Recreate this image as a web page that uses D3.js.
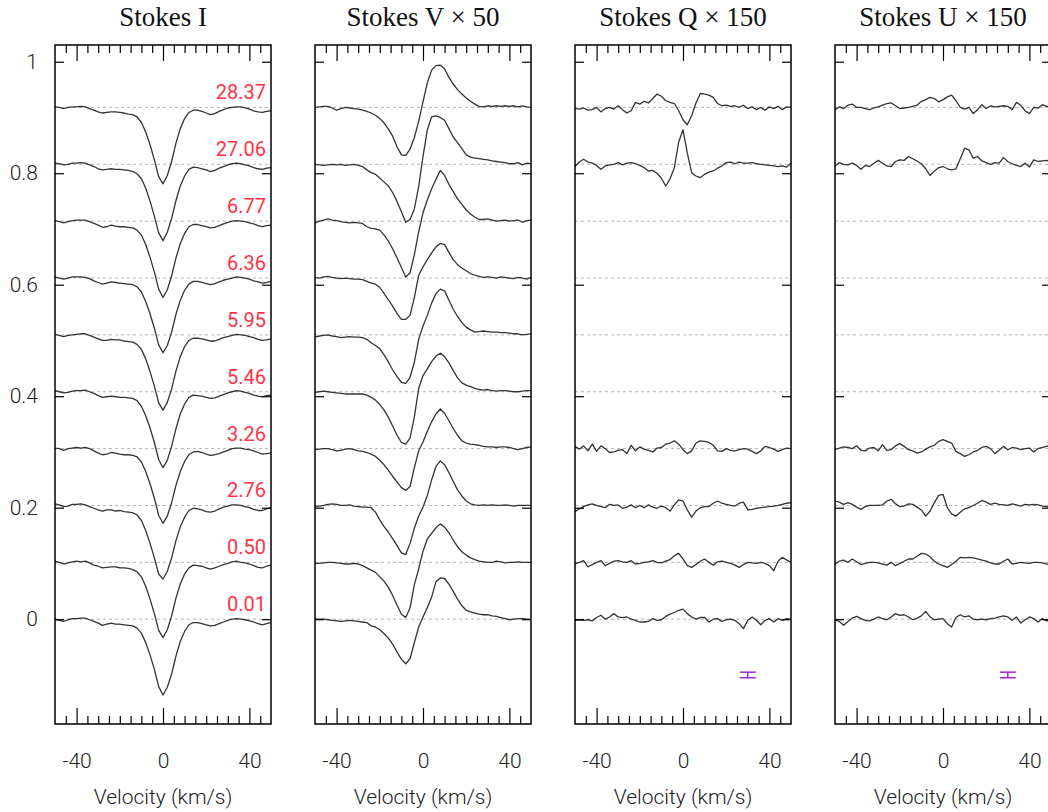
<!DOCTYPE html>
<html>
<head>
<meta charset="utf-8">
<script src="https://cdn.jsdelivr.net/npm/d3@7"></script>
<style>
  body { margin: 0; background: #fff; }
  svg { display: block; }
</style>
</head>
<body>
<script>
// velocity grid (km/s)
const velocity = [-50,-48,-46,-44,-42,-40,-38,-36,-34,-32,-30,-28,-26,-24,-22,-20,-18,-16,-14,-12,-10,-8,-6,-4,-2,0,
  2,4,6,8,10,12,14,16,18,20,22,24,26,28,30,32,34,36,38,40,42,44,46,48,50];

// rotational phases, bottom to top, and their vertical shifts
const phases = ["0.01", "0.50", "2.76", "3.26", "5.46", "5.95", "6.36", "6.77", "27.06", "28.37"];
const offsets = [0, 0.102, 0.204, 0.306, 0.408, 0.51, 0.612, 0.714, 0.816, 0.918];

// Stokes I (I - 1), one row per phase
const stokesI = [
  [0.000,-0.002,-0.004,-0.001,0.001,0.001,0.002,0.002,-0.001,-0.004,-0.007,-0.011,-0.009,-0.007,-0.009,-0.009,-0.010,-0.011,-0.012,-0.016,-0.025,-0.042,-0.064,-0.090,-0.121,-0.136,-0.122,-0.098,-0.066,-0.040,-0.022,-0.010,-0.006,-0.006,-0.008,-0.010,-0.012,-0.011,-0.008,-0.005,-0.002,0.000,0.001,0.000,-0.001,-0.003,-0.005,-0.008,-0.010,-0.008,-0.006],
  [0.002,0.000,-0.003,-0.001,0.001,0.002,0.001,0.002,-0.001,-0.005,-0.007,-0.010,-0.009,-0.008,-0.008,-0.010,-0.010,-0.011,-0.013,-0.017,-0.026,-0.043,-0.066,-0.092,-0.122,-0.135,-0.121,-0.096,-0.064,-0.039,-0.021,-0.010,-0.005,-0.006,-0.007,-0.010,-0.012,-0.010,-0.007,-0.004,-0.002,0.001,0.002,0.000,-0.001,-0.003,-0.006,-0.009,-0.010,-0.007,-0.005],
  [0.003,0.001,-0.002,-0.001,0.002,0.002,0.003,0.001,-0.002,-0.005,-0.008,-0.010,-0.008,-0.008,-0.010,-0.009,-0.011,-0.012,-0.013,-0.017,-0.027,-0.045,-0.068,-0.094,-0.123,-0.132,-0.118,-0.094,-0.063,-0.038,-0.021,-0.009,-0.005,-0.006,-0.008,-0.011,-0.012,-0.010,-0.006,-0.003,-0.001,0.001,0.001,0.000,-0.002,-0.004,-0.007,-0.009,-0.009,-0.006,-0.004],
  [0.001,0.000,-0.003,0.000,0.001,0.002,0.001,0.002,0.000,-0.004,-0.008,-0.011,-0.010,-0.007,-0.008,-0.010,-0.011,-0.011,-0.012,-0.015,-0.024,-0.041,-0.063,-0.089,-0.120,-0.134,-0.121,-0.097,-0.066,-0.041,-0.023,-0.011,-0.006,-0.005,-0.007,-0.010,-0.012,-0.011,-0.009,-0.006,-0.003,0.000,0.001,0.001,-0.001,-0.002,-0.004,-0.007,-0.010,-0.009,-0.008],
  [0.002,0.000,-0.002,-0.001,0.001,0.002,0.002,0.003,0.000,-0.003,-0.007,-0.010,-0.009,-0.008,-0.009,-0.010,-0.010,-0.011,-0.012,-0.016,-0.026,-0.043,-0.065,-0.091,-0.122,-0.136,-0.123,-0.098,-0.066,-0.040,-0.022,-0.010,-0.006,-0.007,-0.008,-0.010,-0.012,-0.011,-0.008,-0.005,-0.002,0.000,0.002,0.001,-0.001,-0.003,-0.006,-0.008,-0.009,-0.007,-0.006],
  [0.001,-0.001,-0.003,-0.001,0.000,0.001,0.002,0.002,-0.001,-0.004,-0.007,-0.010,-0.010,-0.008,-0.009,-0.009,-0.011,-0.012,-0.013,-0.017,-0.026,-0.043,-0.066,-0.092,-0.122,-0.135,-0.121,-0.097,-0.065,-0.039,-0.021,-0.010,-0.006,-0.006,-0.007,-0.009,-0.011,-0.011,-0.008,-0.005,-0.003,-0.001,0.001,0.000,-0.001,-0.003,-0.005,-0.008,-0.010,-0.009,-0.007],
  [0.002,0.000,-0.002,0.000,0.002,0.002,0.002,0.001,-0.001,-0.005,-0.008,-0.011,-0.009,-0.007,-0.008,-0.009,-0.010,-0.011,-0.012,-0.016,-0.025,-0.042,-0.064,-0.090,-0.120,-0.134,-0.121,-0.097,-0.065,-0.040,-0.022,-0.011,-0.006,-0.006,-0.008,-0.010,-0.012,-0.010,-0.007,-0.004,-0.002,0.000,0.002,0.001,0.000,-0.002,-0.005,-0.007,-0.009,-0.008,-0.006],
  [0.001,-0.001,-0.003,-0.001,0.001,0.002,0.002,0.002,-0.001,-0.004,-0.007,-0.011,-0.010,-0.007,-0.009,-0.010,-0.010,-0.011,-0.012,-0.016,-0.025,-0.042,-0.065,-0.091,-0.122,-0.137,-0.123,-0.098,-0.066,-0.040,-0.022,-0.010,-0.006,-0.006,-0.008,-0.010,-0.012,-0.011,-0.008,-0.005,-0.002,0.000,0.001,0.000,-0.001,-0.003,-0.005,-0.008,-0.010,-0.008,-0.007],
  [0.002,0.001,-0.001,0.000,0.002,0.002,0.003,0.002,-0.001,-0.004,-0.008,-0.010,-0.009,-0.008,-0.009,-0.009,-0.010,-0.011,-0.013,-0.017,-0.026,-0.043,-0.066,-0.093,-0.123,-0.137,-0.122,-0.097,-0.065,-0.039,-0.021,-0.009,-0.005,-0.006,-0.008,-0.010,-0.013,-0.011,-0.007,-0.004,-0.001,0.001,0.002,0.001,-0.001,-0.003,-0.006,-0.008,-0.009,-0.007,-0.006],
  [0.001,0.000,-0.002,0.000,0.001,0.001,0.002,0.001,-0.002,-0.005,-0.008,-0.010,-0.009,-0.008,-0.008,-0.009,-0.010,-0.012,-0.013,-0.017,-0.027,-0.044,-0.067,-0.094,-0.124,-0.137,-0.122,-0.097,-0.064,-0.038,-0.020,-0.009,-0.005,-0.005,-0.007,-0.010,-0.013,-0.011,-0.007,-0.004,-0.001,0.000,0.001,0.001,-0.001,-0.003,-0.006,-0.008,-0.009,-0.007,-0.006]
];

// Stokes V x 50
const stokesV = [
  [0.000,0.000,0.000,-0.001,-0.002,-0.003,-0.004,-0.003,-0.002,-0.003,-0.004,-0.005,-0.006,-0.012,-0.014,-0.019,-0.026,-0.034,-0.045,-0.059,-0.072,-0.080,-0.071,-0.042,-0.014,0.004,0.021,0.040,0.067,0.074,0.073,0.063,0.050,0.036,0.024,0.016,0.013,0.011,0.009,0.008,0.008,0.006,0.005,0.003,0.001,-0.001,0.000,0.001,0.001,0.000,0.000],
  [-0.002,-0.002,-0.001,0.000,0.000,-0.001,-0.002,-0.003,-0.003,-0.002,-0.003,-0.006,-0.010,-0.014,-0.018,-0.026,-0.034,-0.045,-0.060,-0.077,-0.093,-0.099,-0.082,-0.040,-0.012,0.020,0.042,0.052,0.062,0.069,0.063,0.053,0.040,0.028,0.019,0.013,0.008,0.005,0.002,0.001,0.000,0.000,0.002,0.001,-0.001,0.000,0.000,0.001,0.000,0.000,0.000],
  [-0.002,-0.001,0.000,0.002,0.003,0.002,0.000,0.000,0.001,-0.001,-0.002,-0.003,-0.003,-0.004,-0.012,-0.026,-0.038,-0.048,-0.060,-0.072,-0.085,-0.088,-0.068,-0.041,-0.019,-0.003,0.018,0.046,0.070,0.080,0.073,0.059,0.043,0.028,0.017,0.008,0.003,0.001,0.000,0.001,0.000,0.001,0.000,0.000,0.001,0.000,-0.001,0.000,0.000,0.000,0.000],
  [-0.002,-0.001,0.000,0.000,-0.002,-0.004,-0.003,-0.001,0.000,-0.002,-0.004,-0.005,-0.007,-0.010,-0.014,-0.021,-0.029,-0.039,-0.050,-0.060,-0.070,-0.075,-0.068,-0.034,-0.004,0.012,0.031,0.048,0.062,0.071,0.063,0.050,0.036,0.024,0.014,0.010,0.008,0.007,0.006,0.004,0.003,0.003,0.002,0.003,0.003,0.002,0.000,-0.002,0.000,0.002,0.003],
  [-0.001,0.000,0.001,0.000,-0.001,-0.002,-0.003,-0.004,-0.004,-0.004,-0.004,-0.004,-0.006,-0.010,-0.015,-0.023,-0.033,-0.046,-0.062,-0.078,-0.091,-0.094,-0.083,-0.045,0.006,0.029,0.041,0.054,0.064,0.069,0.063,0.052,0.038,0.025,0.016,0.012,0.009,0.006,0.004,0.003,0.004,0.002,0.001,0.002,0.002,0.001,0.000,0.000,0.001,0.002,0.002],
  [-0.004,-0.002,-0.001,0.000,-0.002,-0.003,-0.005,-0.004,-0.003,-0.004,-0.004,-0.005,-0.008,-0.014,-0.019,-0.025,-0.036,-0.049,-0.063,-0.075,-0.085,-0.087,-0.076,-0.049,-0.008,0.016,0.035,0.057,0.074,0.082,0.079,0.062,0.046,0.033,0.022,0.014,0.009,0.005,0.006,0.007,0.006,0.005,0.005,0.004,0.004,0.003,0.002,0.002,0.000,0.001,0.002],
  [0.001,0.000,0.002,0.003,0.001,0.000,-0.001,0.000,-0.001,-0.002,-0.002,-0.003,-0.006,-0.009,-0.011,-0.017,-0.028,-0.039,-0.051,-0.064,-0.074,-0.074,-0.067,-0.035,0.005,0.020,0.033,0.045,0.056,0.062,0.060,0.046,0.033,0.024,0.018,0.013,0.008,0.005,0.003,0.001,0.002,0.001,0.000,0.002,0.001,0.000,-0.001,0.001,0.000,-0.002,0.001],
  [-0.003,0.000,0.002,0.004,0.002,0.001,-0.001,-0.002,-0.003,-0.002,-0.003,-0.004,-0.010,-0.013,-0.014,-0.016,-0.025,-0.036,-0.050,-0.066,-0.083,-0.100,-0.093,-0.060,-0.019,0.015,0.038,0.058,0.075,0.091,0.082,0.066,0.053,0.040,0.030,0.020,0.013,0.007,0.003,0.003,0.004,0.002,0.000,0.001,0.002,0.000,0.001,0.002,-0.002,0.001,0.002],
  [0.000,-0.001,-0.002,-0.001,0.000,-0.001,0.000,-0.002,-0.001,0.000,-0.002,-0.004,-0.010,-0.015,-0.018,-0.025,-0.032,-0.039,-0.051,-0.067,-0.085,-0.104,-0.099,-0.080,-0.040,0.014,0.062,0.085,0.087,0.084,0.079,0.064,0.049,0.039,0.028,0.017,0.013,0.011,0.010,0.009,0.008,0.006,0.005,0.004,0.003,0.001,0.001,0.003,-0.001,0.002,0.001],
  [0.000,0.001,0.002,0.002,-0.001,-0.005,-0.002,0.000,-0.001,-0.002,-0.003,-0.005,-0.007,-0.010,-0.014,-0.020,-0.028,-0.039,-0.052,-0.071,-0.085,-0.086,-0.075,-0.054,-0.025,0.010,0.044,0.067,0.075,0.076,0.069,0.054,0.042,0.032,0.024,0.017,0.011,0.006,0.002,0.001,0.003,0.002,0.003,0.002,0.003,0.002,0.003,0.001,0.003,0.001,0.000]
];

// Stokes Q x 150 (null: no polarimetric sequence at that phase)
const stokesQ = [
  [-0.002,-0.001,-0.002,-0.001,-0.003,0.003,0.007,0.000,0.004,0.010,0.004,0.003,0.004,0.000,-0.002,-0.005,-0.005,-0.004,0.001,-0.002,-0.001,0.005,0.009,0.012,0.016,0.018,0.010,0.004,0.000,0.003,0.003,-0.005,0.000,0.001,-0.004,-0.001,0.000,-0.002,-0.008,-0.017,-0.002,0.004,-0.002,-0.010,-0.002,0.001,-0.005,0.001,-0.002,0.001,0.000],
  [-0.003,0.000,0.003,-0.008,-0.004,0.000,0.003,-0.006,-0.002,0.002,0.003,0.001,0.000,0.003,-0.003,-0.002,0.000,0.001,0.003,0.000,-0.001,0.002,0.005,0.012,0.016,0.006,-0.006,-0.009,-0.004,0.002,0.006,0.000,-0.005,0.001,0.002,0.000,-0.002,-0.005,-0.009,-0.004,0.000,-0.001,-0.002,0.000,-0.002,-0.006,-0.015,0.002,0.009,0.004,0.000],
  [-0.011,-0.006,-0.002,0.001,0.003,0.000,-0.002,-0.004,0.002,0.000,0.001,-0.005,-0.003,0.001,-0.004,0.000,-0.004,0.001,-0.003,-0.005,-0.001,-0.004,-0.010,0.001,0.010,0.008,-0.008,-0.021,-0.010,-0.004,-0.002,-0.002,0.004,0.008,0.004,0.002,0.000,-0.001,0.004,0.006,-0.008,-0.007,-0.005,-0.004,-0.003,-0.002,-0.001,0.000,0.002,0.004,0.005],
  [0.004,-0.001,0.005,-0.004,0.008,-0.005,0.005,0.000,-0.007,-0.006,-0.003,-0.002,-0.009,0.006,-0.004,0.003,-0.001,-0.003,-0.006,0.001,0.002,0.008,0.010,0.014,0.008,-0.002,-0.009,-0.004,0.010,0.014,0.013,0.011,0.006,-0.004,-0.005,0.000,-0.003,-0.004,-0.002,0.000,-0.001,-0.005,-0.009,-0.004,0.004,0.002,-0.001,-0.005,-0.002,0.001,0.000],
  null, null, null, null,
  [-0.004,0.004,0.009,0.004,0.002,-0.002,-0.009,-0.003,-0.001,0.000,0.003,-0.001,0.002,0.003,0.001,-0.002,-0.006,-0.012,-0.011,-0.016,-0.025,-0.039,-0.026,-0.006,0.040,0.062,0.020,-0.015,-0.021,-0.024,-0.018,-0.014,-0.012,-0.007,-0.003,0.003,0.004,0.001,0.004,0.002,0.002,0.003,0.001,0.000,-0.001,-0.002,-0.003,-0.004,-0.003,-0.005,0.002],
  [-0.002,-0.003,-0.001,-0.005,-0.004,0.000,-0.008,-0.002,0.000,-0.003,0.003,-0.004,-0.010,-0.006,0.009,0.006,0.011,0.008,0.016,0.024,0.020,0.012,0.009,0.007,-0.006,-0.022,-0.031,-0.015,0.008,0.025,0.024,0.022,0.018,0.007,0.003,0.004,0.002,0.003,0.000,0.004,-0.002,0.001,-0.004,0.000,-0.005,0.001,-0.002,0.002,-0.004,0.001,0.000]
];

// Stokes U x 150
const stokesU = [
  [-0.001,-0.004,-0.011,-0.004,0.002,0.005,0.001,-0.002,-0.003,0.000,0.004,0.001,-0.001,0.004,0.010,0.007,0.008,0.004,-0.001,0.002,0.006,0.014,0.004,-0.001,0.000,0.001,-0.008,-0.014,0.003,0.008,0.004,0.006,0.000,-0.001,0.000,-0.001,0.001,0.002,0.004,0.006,0.004,-0.002,0.004,-0.007,-0.001,0.004,0.001,-0.005,0.001,-0.003,-0.001],
  [-0.003,0.002,0.004,0.000,0.006,0.001,-0.004,-0.002,0.000,0.000,-0.001,-0.003,-0.005,0.000,-0.006,-0.002,0.002,0.006,0.006,0.011,0.016,0.015,0.010,0.002,-0.003,-0.006,-0.009,-0.004,0.002,0.009,0.008,0.009,0.008,0.006,0.004,0.002,-0.001,-0.003,-0.003,0.002,0.006,-0.003,-0.002,0.000,-0.001,-0.002,0.000,0.000,-0.001,-0.003,-0.004],
  [0.008,0.006,0.002,0.005,0.002,-0.003,-0.007,-0.002,0.000,0.000,0.000,0.001,0.008,0.011,0.003,-0.002,-0.001,0.003,0.002,-0.003,-0.008,-0.019,-0.010,0.005,0.018,0.020,-0.004,-0.015,-0.019,-0.012,-0.006,-0.004,0.000,0.004,0.009,0.006,0.002,0.004,0.002,0.001,0.000,0.003,0.001,-0.001,0.002,0.001,0.002,0.001,-0.001,-0.002,-0.003],
  [-0.002,0.001,0.003,0.002,0.000,0.005,-0.003,-0.004,0.001,0.002,-0.004,0.007,-0.003,-0.002,0.005,0.009,0.004,-0.002,-0.004,-0.008,-0.006,-0.001,0.003,0.006,0.013,0.016,0.013,0.010,-0.005,-0.009,-0.014,-0.011,-0.006,-0.003,0.002,0.004,0.000,-0.009,-0.003,0.004,-0.002,0.002,0.001,-0.002,0.000,0.001,-0.006,0.000,0.002,0.004,0.006],
  null, null, null, null,
  [-0.003,0.003,0.000,-0.001,0.002,-0.002,-0.009,-0.002,-0.004,0.002,0.007,0.002,-0.003,-0.004,0.005,0.008,0.007,0.014,0.010,0.006,0.001,-0.008,-0.020,-0.012,-0.006,-0.004,-0.008,-0.010,-0.008,0.010,0.029,0.026,0.011,0.014,0.006,0.003,0.000,0.003,0.002,0.012,0.005,0.001,-0.002,-0.004,0.002,-0.005,0.008,0.005,0.006,0.007,0.006],
  [-0.004,0.001,-0.002,0.004,0.006,0.000,0.000,-0.002,-0.004,-0.001,0.001,0.004,0.007,0.008,0.003,-0.002,-0.001,0.000,0.002,0.004,0.011,0.014,0.018,0.016,0.010,0.014,0.019,0.022,0.012,0.000,-0.003,0.000,-0.011,-0.004,0.005,-0.002,0.003,0.001,0.002,0.003,0.002,-0.004,0.009,0.004,-0.006,-0.011,0.000,-0.001,0.005,0.002,0.002]
];

// typical error bar shown in the Q and U panels
const errBar = { v: 30, y: -0.1, sigma: 0.005 };

const titles = ["Stokes I", "Stokes V \u00d7 50", "Stokes Q \u00d7 150", "Stokes U \u00d7 150"];
const series = [stokesI, stokesV, stokesQ, stokesU];
const yTicks = [0, 0.2, 0.4, 0.6, 0.8, 1];
const xMajor = [-40, 0, 40];
const xMinor = [-45, -35, -30, -25, -20, -15, -10, -5, 5, 10, 15, 20, 25, 30, 35, 45];

const W = 1048, H = 812;
const margin = { top: 45, left: 55 };
const pw = 216, ph = 679, gap = 44;

const svg = d3.select("body").append("svg")
    .attr("width", W)
    .attr("height", H);

const x = d3.scaleLinear().domain([-50, 50]).range([0, pw]);
const y = d3.scaleLinear().domain([-0.188, 1.03]).range([ph, 0]);

svg.append("defs").append("clipPath")
    .attr("id", "clip")
    .append("rect")
    .attr("width", pw)
    .attr("height", ph);

const line = d3.line()
    .x((d) => x(d[0]))
    .y((d) => y(d[1]));

function styleAxis(sel, labels) {
    sel.select(".domain").remove();
    sel.selectAll(".tick line").attr("stroke", "#000").attr("stroke-width", 1.2);
    sel.attr("font-family", "Roboto").attr("font-size", 21).attr("font-weight", 300);
    sel.selectAll(".tick text").attr("fill", "#222");
    if (!labels) sel.selectAll(".tick text").remove();
}

titles.forEach((title, p) => {
    const g = svg.append("g")
        .attr("transform", `translate(${margin.left + p * (pw + gap)},${margin.top})`);

    svg.append("text")
        .attr("x", margin.left + p * (pw + gap) + pw / 2)
        .attr("y", 26)
        .attr("text-anchor", "middle")
        .attr("font-family", "Liberation Serif")
        .attr("font-size", 27)
        .attr("fill", "#111")
        .text(title);

    const plot = g.append("g").attr("clip-path", "url(#clip)");

    // zero level of every phase
    plot.selectAll(".base")
        .data(offsets)
        .join("line")
        .attr("class", "base")
        .attr("x1", 0)
        .attr("x2", pw)
        .attr("y1", (d) => y(d))
        .attr("y2", (d) => y(d))
        .attr("stroke", "#b4b4b4")
        .attr("stroke-width", 1)
        .attr("stroke-dasharray", "3,3");

    const rows = series[p]
        .map((vals, i) => ({ vals, off: offsets[i] }))
        .filter((d) => d.vals);

    plot.selectAll(".prof")
        .data(rows)
        .join("path")
        .attr("class", "prof")
        .attr("fill", "none")
        .attr("stroke", "#333")
        .attr("stroke-width", 1.3)
        .attr("stroke-linejoin", "round")
        .attr("d", (d) => line(d.vals.map((v, k) => [velocity[k], v + d.off])));

    if (p === 0) {
        g.selectAll(".phase")
            .data(phases)
            .join("text")
            .attr("class", "phase")
            .attr("x", pw - 5)
            .attr("y", (d, i) => y(offsets[i]) - 8)
            .attr("text-anchor", "end")
            .attr("font-family", "Roboto")
            .attr("font-size", 20)
            .attr("fill", "#ff3347")
            .text((d) => d);
    }

    if (p >= 2) {
        const eb = g.append("g")
            .attr("stroke", "#9b27d6")
            .attr("stroke-width", 1.5);
        const ex = x(errBar.v);
        eb.append("line")
            .attr("x1", ex).attr("x2", ex)
            .attr("y1", y(errBar.y + errBar.sigma))
            .attr("y2", y(errBar.y - errBar.sigma));
        [errBar.y + errBar.sigma, errBar.y - errBar.sigma].forEach((v) => {
            eb.append("line")
                .attr("x1", ex - 8).attr("x2", ex + 8)
                .attr("y1", y(v)).attr("y2", y(v));
        });
    }

    // axes: all ticks point inward
    const gb = g.append("g").attr("transform", `translate(0,${ph})`)
        .call(d3.axisBottom(x).tickValues(xMajor).tickSize(-16).tickPadding(29).tickFormat((d) => String(d)));
    styleAxis(gb, true);
    const gbm = g.append("g").attr("transform", `translate(0,${ph})`)
        .call(d3.axisBottom(x).tickValues(xMinor).tickSize(-8));
    styleAxis(gbm, false);
    const gt = g.append("g")
        .call(d3.axisTop(x).tickValues(xMajor).tickSize(-16));
    styleAxis(gt, false);
    const gtm = g.append("g")
        .call(d3.axisTop(x).tickValues(xMinor).tickSize(-8));
    styleAxis(gtm, false);
    const gl = g.append("g")
        .call(d3.axisLeft(y).tickValues(yTicks).tickSize(-9).tickPadding(17).tickFormat((d) => String(d)));
    styleAxis(gl, p === 0);
    const gr = g.append("g").attr("transform", `translate(${pw},0)`)
        .call(d3.axisRight(y).tickValues(yTicks).tickSize(-9));
    styleAxis(gr, false);

    g.append("rect")
        .attr("width", pw)
        .attr("height", ph)
        .attr("fill", "none")
        .attr("stroke", "#000")
        .attr("stroke-width", 1.5);

    g.append("text")
        .attr("x", pw / 2)
        .attr("y", 759)
        .attr("text-anchor", "middle")
        .attr("font-family", "Roboto")
        .attr("font-size", 21)
        .attr("font-weight", 300)
        .attr("fill", "#222")
        .text("Velocity (km/s)");
});
</script>
</body>
</html>
